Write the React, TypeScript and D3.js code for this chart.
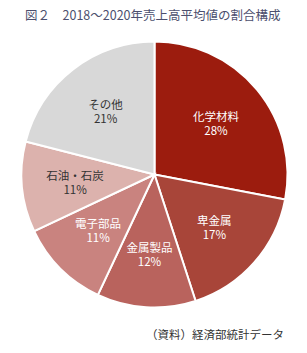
import { useEffect, useRef } from 'react'
import * as d3 from 'd3'

const categories = ['化学材料', '卑金属', '金属製品', '電子部品', '石油・石炭', 'その他']
const shares = [28, 17, 12, 11, 11, 21]
const sliceColors = ['#9c1c0e', '#a84539', '#b9635d', '#c9837f', '#dcb2ad', '#d8d8d8']
const labelColors = ['#fff', '#fff', '#fff', '#fff', '#333', '#333']
const titleText = '図２　2018～2020年売上高平均値の割合構成'
const sourceText = '（資料）経済部統計データ'

export default function App() {
  const svgRef = useRef<SVGSVGElement | null>(null)
  const width = 307
  const height = 353

  useEffect(() => {
    if (!svgRef.current) return
    const svg = d3.select(svgRef.current)
    svg.selectAll('*').remove()

    const cx = 154.5
    const cy = 174.5
    const r = 133
    const font = "'Noto Sans CJK JP', 'Noto Sans', sans-serif"

    svg.append('rect').attr('width', width).attr('height', height).attr('fill', '#fff')

    svg.append('text')
      .attr('x', 25)
      .attr('y', 20)
      .attr('font-family', font)
      .attr('font-size', 12.5)
      .attr('fill', '#4c4f6e')
      .text(titleText)

    const data = categories.map((c, i) => ({ name: c, value: shares[i], i }))
    const pie = d3.pie<{ name: string; value: number; i: number }>()
      .value(d => d.value)
      .sort(null)
    const arcs = pie(data)

    const arc = d3.arc<d3.PieArcDatum<{ name: string; value: number; i: number }>>()
      .innerRadius(0)
      .outerRadius(r)
    const labelArc = d3.arc<d3.PieArcDatum<{ name: string; value: number; i: number }>>()
      .innerRadius(r * 0.6)
      .outerRadius(r * 0.6)

    const g = svg.append('g').attr('transform', `translate(${cx},${cy})`)

    g.selectAll('path')
      .data(arcs)
      .join('path')
      .attr('d', arc)
      .attr('fill', d => sliceColors[d.data.i])
      .attr('stroke', '#fff')
      .attr('stroke-width', 2)

    // two-line label: name over percent, one text element
    const labels = g.selectAll('text.lbl')
      .data(arcs)
      .join('text')
      .attr('class', 'lbl')
      .attr('transform', d => `translate(${labelArc.centroid(d)})`)
      .attr('text-anchor', 'middle')
      .attr('font-family', font)
      .attr('font-size', 11.5)
      .attr('fill', d => labelColors[d.data.i])

    labels.append('tspan')
      .attr('x', 0)
      .attr('y', -2.5)
      .text(d => d.data.name)

    labels.append('tspan')
      .attr('x', 0)
      .attr('y', 11.5)
      .text(d => `${d.data.value}%`)

    svg.append('text')
      .attr('x', 284)
      .attr('y', 339)
      .attr('text-anchor', 'end')
      .attr('font-family', font)
      .attr('font-size', 11.5)
      .attr('fill', '#333')
      .text(sourceText)
  }, [])

  return (
    <svg
      ref={svgRef}
      width={width}
      height={height}
      style={{ position: 'absolute', left: 0, top: 0, display: 'block' }}
    />
  )
}
